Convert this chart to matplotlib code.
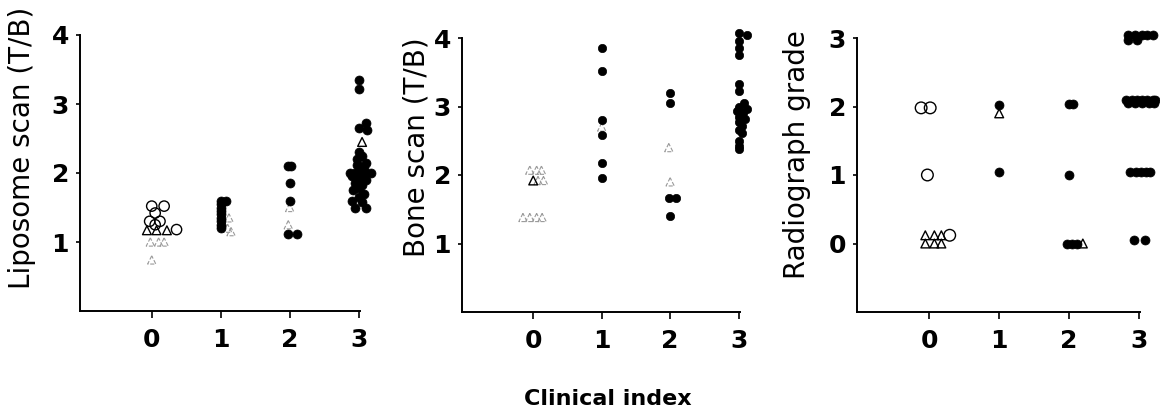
import matplotlib
matplotlib.use("Agg")
import matplotlib.pyplot as plt

# ---------------- data ----------------
categories = [0, 1, 2, 3]

# Panel 1: Liposome scan (T/B)
lip_dot_x = [1.0, 1.0, 1.0, 1.0, 1.0, 1.0, 1.0, 1.0, 1.0, 1.08,
             1.98, 2.02, 2.0, 2.0, 1.97, 2.1,
             3.0, 3.0, 3.1, 3.0, 3.12, 3.0, 3.05, 2.98, 3.1, 3.0, 3.05, 2.88, 2.95,
             3.02, 3.1, 3.18, 2.9, 3.0, 3.1, 2.95, 3.05, 3.0, 2.92, 3.08, 3.0, 2.9,
             3.05, 2.95, 3.1, 2.97, 3.08]
lip_dot_y = [1.6, 1.55, 1.5, 1.45, 1.4, 1.35, 1.3, 1.25, 1.2, 1.6,
             2.1, 2.1, 1.86, 1.6, 1.12, 1.12,
             3.35, 3.22, 2.72, 2.65, 2.62, 2.3, 2.25, 2.2, 2.15, 2.1, 2.05, 2.0, 2.0,
             2.0, 2.0, 2.0, 1.95, 1.92, 1.9, 1.85, 1.82, 1.78, 1.75, 1.7, 1.65, 1.6,
             1.58, 1.5, 1.5, 2.12, 2.08]
lip_circ_x = [0.0, 0.18, 0.05, -0.03, 0.12, 0.36, 0.05]
lip_circ_y = [1.52, 1.52, 1.42, 1.3, 1.3, 1.18, 1.25]
lip_tri_x = [-0.07, 0.07, 0.22, 3.05]
lip_tri_y = [1.17, 1.17, 1.17, 2.45]
lip_faint_x = [-0.02, 0.1, 0.18, 0.0, 1.12, 1.1, 1.15, 2.0, 1.98]
lip_faint_y = [1.0, 1.0, 1.0, 0.74, 1.35, 1.2, 1.15, 1.5, 1.25]

# Panel 2: Bone scan (T/B)
bone_dot_x = [1.0, 1.0, 1.0, 1.0, 1.0, 1.0,
              2.0, 2.0, 1.98, 2.08, 2.0,
              3.0, 3.12, 3.0, 3.0, 3.0, 3.0, 3.0, 3.08, 3.0, 3.12, 2.98, 3.06,
              3.0, 3.1, 3.0, 3.05, 3.0, 3.05, 3.0, 3.0, 3.0]
bone_dot_y = [3.85, 3.52, 2.8, 2.58, 2.17, 1.96,
              3.2, 3.05, 1.67, 1.67, 1.4,
              4.07, 4.05, 3.95, 3.85, 3.75, 3.33, 3.22, 3.05, 3.0, 2.97, 2.93, 2.9,
              2.85, 2.82, 2.78, 2.72, 2.65, 2.62, 2.5, 2.42, 2.38]
bone_tri_x = [0.0]
bone_tri_y = [1.92]
bone_faint_x = [-0.05, 0.05, 0.12, 0.07, 0.15, -0.15, -0.05, 0.05, 0.13, 1.0, 1.98, 2.0]
bone_faint_y = [2.07, 2.07, 2.07, 1.92, 1.92, 1.38, 1.38, 1.38, 1.38, 2.7, 2.4, 1.9]

# Panel 3: Radiograph grade
rad_dot_x = [1.0, 1.0,
             2.0, 2.06, 2.0, 1.97, 2.05, 2.12,
             2.85, 2.95, 3.05, 3.12, 3.2, 2.85, 2.97,
             2.82, 2.9, 2.98, 3.05, 3.12, 3.2, 3.24, 2.85, 2.95, 3.05, 3.15, 3.22,
             2.88, 2.96, 3.03, 3.1, 3.17,
             2.94, 3.09]
rad_dot_y = [2.02, 1.05,
             2.03, 2.03, 1.0, 0.0, 0.0, 0.0,
             3.05, 3.05, 3.05, 3.05, 3.05, 2.97, 2.97,
             2.1, 2.1, 2.1, 2.1, 2.1, 2.1, 2.1, 2.05, 2.05, 2.05, 2.05, 2.05,
             1.05, 1.05, 1.05, 1.05, 1.05,
             0.05, 0.05]
rad_circ_x = [-0.12, 0.01, -0.03, 0.29]
rad_circ_y = [1.98, 1.98, 1.0, 0.12]
rad_tri_x = [-0.06, 0.07, 0.17, -0.06, 0.07, 0.17, 1.0, 2.2]
rad_tri_y = [0.12, 0.12, 0.12, 0.0, 0.0, 0.0, 1.9, 0.0]

ylabels = ["Liposome scan (T/B)", "Bone scan (T/B)", "Radiograph grade"]
xlabel = "Clinical index"

# ---------------- figure ----------------
plt.rcParams['font.family'] = ['DejaVu Sans']
fig = plt.figure(figsize=(11.6, 4.17), dpi=100)

W, H = 1160, 417
def ax_at(l, r, t, b):
    return fig.add_axes([l / W, (H - b) / H, (r - l) / W, (b - t) / H])

ax1 = ax_at(80, 360, 35, 311)
ax2 = ax_at(462, 740, 38, 312)
ax3 = ax_at(857, 1140, 38, 312)

dot_kw = dict(s=42, c='black', edgecolors='black', linewidths=0.5, clip_on=False, zorder=3)
circ_kw = dict(s=55, facecolors='none', edgecolors='black', linewidths=1.0, clip_on=False, zorder=3)
tri_kw = dict(s=40, marker='^', facecolors='none', edgecolors='black', linewidths=1.0, clip_on=False, zorder=3)
faint_kw = dict(s=35, marker='^', facecolors='none', edgecolors='#9a9a9a', linewidths=0.8,
                linestyle='--', clip_on=False, zorder=2)

ax1.scatter(lip_faint_x, lip_faint_y, **faint_kw)
ax1.scatter(lip_circ_x, lip_circ_y, **circ_kw)
ax1.scatter(lip_tri_x, lip_tri_y, **tri_kw)
ax1.scatter(lip_dot_x, lip_dot_y, **dot_kw)

ax2.scatter(bone_faint_x, bone_faint_y, **faint_kw)
ax2.scatter(bone_tri_x, bone_tri_y, **tri_kw)
ax2.scatter(bone_dot_x, bone_dot_y, **dict(dot_kw, s=36))

ax3.scatter(rad_circ_x, rad_circ_y, **dict(circ_kw, s=70))
ax3.scatter(rad_tri_x, rad_tri_y, **tri_kw)
ax3.scatter(rad_dot_x, rad_dot_y, **dot_kw)

ax1.set_ylim(0, 4); ax1.set_yticks([1, 2, 3, 4])
ax2.set_ylim(0, 4); ax2.set_yticks([1, 2, 3, 4])
ax3.set_ylim(-1, 3); ax3.set_yticks([0, 1, 2, 3])

label_pos = [(-0.207, 0.59), (-0.165, 0.60), (-0.212, 0.573)]

for ax, lab, pos in zip([ax1, ax2, ax3], ylabels, label_pos):
    ax.set_xlim(-1.04, 3.02)
    ax.set_xticks(categories)
    ax.set_xticklabels([str(c) for c in categories], fontsize=18, fontweight='bold')
    for t in ax.get_yticklabels():
        t.set_fontsize(18); t.set_fontweight('bold')
    ax.spines['top'].set_visible(False)
    ax.spines['right'].set_visible(False)
    ax.spines['left'].set_linewidth(1.4)
    ax.spines['bottom'].set_linewidth(1.4)
    ax.tick_params(axis='x', length=5, width=1.2, pad=7)
    ax.tick_params(axis='y', length=3, width=1.2, pad=5)
    ax.set_ylabel(lab, fontsize=20)
    ax.yaxis.label.set_va('center')
    ax.yaxis.set_label_coords(pos[0], pos[1])
    ax.set_facecolor('white')

fig.text(608 / W, 1 - 399 / H, xlabel, fontsize=16, fontweight='bold', ha='center', va='center')

fig.savefig("out.png", dpi=100, facecolor='white')
